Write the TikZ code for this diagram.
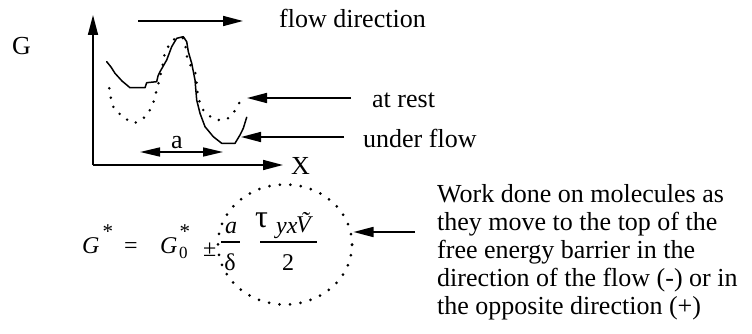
\documentclass[tikz,border=0pt]{standalone}
\usepackage{fontspec}
\setmainfont{Liberation Serif}
\usetikzlibrary{arrows.meta,shapes.geometric}
\newcommand{\starsup}{\raisebox{15pt}{\fontsize{21}{24}\selectfont *}}
\begin{document}
\begin{tikzpicture}[x=1pt,y=-1pt,
  txt/.style={font=\fontsize{26}{28}\selectfont, inner sep=0pt},
  eq/.style={font=\fontsize{24}{28}\selectfont, inner sep=0pt},
  arr/.style={line width=1.6pt, -{Triangle[length=20pt,width=10pt]}},
  darr/.style={line width=1.6pt, {Triangle[length=20pt,width=9pt]}-{Triangle[length=20pt,width=9pt]}},
  curve/.style={line width=1.5pt, line join=round, line cap=round},
  dotcurve/.style={line width=2.8pt, line cap=round, dash pattern=on 0pt off 9.5pt},
  dotring/.style={ellipse, draw, line width=3pt, line cap=round, dash pattern=on 0pt off 10.5pt, inner sep=0pt}
]
\useasboundingbox (0,0) rectangle (752,334);

% labels
\node[txt, anchor=base west] (G) at (12,55) {G};
\node[txt, anchor=base west] (flow) at (279,28) {flow direction};
\node[txt, anchor=base west] (rest) at (372,108) {at rest};
\node[txt, anchor=base west] (under) at (363,147) {under flow};
\node[txt, anchor=base west] (X) at (291,174) {X};
\node[txt, anchor=base] (alab) at (177,148) {a};

% axes
\coordinate (O) at (93,165);
\coordinate (ytop) at (93,15);
\coordinate (xend) at (283,165);
\draw[arr] (O) -- (ytop);
\draw[arr] (O) -- (xend);

% arrows
\coordinate (f1) at (138,21);
\coordinate (f2) at (243,21);
\draw[arr] (f1) -- (f2);
\coordinate (r1) at (351,98);
\coordinate (r2) at (247,98);
\draw[arr] (r1) -- (r2);
\coordinate (u1) at (344,137);
\coordinate (u2) at (241,137);
\draw[arr] (u1) -- (u2);
\coordinate (a1) at (140,152);
\coordinate (a2) at (223,152);
\draw[darr] (a1) -- (a2);

% under flow curve (solid)
\draw[curve] (106.7,61.7) -- (111,67) -- (115,73.3) -- (122,81) -- (130,87.7) -- (145,87.7)
  -- (146.7,82.7) -- (156.7,81.7) -- (158,76) -- (160,71.7) -- (166.7,60) -- (171.7,46.7)
  -- (176.7,38.3) -- (183.3,36.7) -- (186.7,41.7) -- (188.3,51.7) -- (191.7,63.3)
  -- (195,80) -- (196.7,100) -- (200,113.3) -- (205,126.7) -- (213.3,136.7)
  -- (221.7,143.3) -- (235,143.3) -- (240,135) -- (243.3,128.3) -- (246.7,117.3);

% at rest curve (dotted)
\draw[dotcurve] plot[smooth, tension=0.6] coordinates {(109.3,88.3) (113.3,106.7) (123.3,116.7)
  (133.3,122.7) (143.3,118.3) (151.7,106.7) (156.7,90) (161.7,70) (165,53.3) (171.7,41.7)
  (178,37.5) (184,40) (188.3,61.7) (195,71.7) (198.3,96.7) (203.3,110) (213.3,118.3)
  (223.3,120) (231.7,115) (240,101.7)};

% equation
\node[eq, anchor=base west] (Gs) at (82,253) {\textit{G}\hspace{3pt}\starsup};
\node[eq, anchor=base west] (eqsign) at (124,253) {=};
\node[eq, anchor=base west] (G0) at (160,253)
  {\textit{G}\hspace{1.5pt}\rlap{\raisebox{-5pt}{\fontsize{17}{20}\selectfont 0}}\hspace{0.5pt}\starsup};
\node[eq, anchor=base west] (pm) at (203,256) {±};
\node[eq, anchor=base] (anum) at (231,233) {\textit{a}};
\node[eq, anchor=base] (dden) at (230,270) {δ};
\coordinate (b1) at (221,242);
\coordinate (b2) at (240,242);
\draw[line width=1.5pt] (b1) -- (b2);
\node[font=\fontsize{32}{34}\selectfont, inner sep=0pt, anchor=base west] (tau) at (255,227) {τ};
\node[eq, anchor=base west] (yx) at (276,233) {\textit{yx}};
\node[eq, anchor=base west] (V) at (296,232) {\textit{\~{V}}};
\node[eq, anchor=base] (two) at (288,270) {2};
\coordinate (c1) at (260,242);
\coordinate (c2) at (317,242);
\draw[line width=1.5pt] (c1) -- (c2);

% dotted ring
\node[dotring, minimum width=134pt, minimum height=120pt] (work) at (285,244.5) {};

% explanation
\node[txt, anchor=north west, align=left] (expl) at (437,184)
  {Work done on molecules as\\they move to the top of the\\free energy barrier in the\\direction of the flow (-) or in\\the opposite direction (+)};
\coordinate (w1) at (415,232);
\draw[arr] (w1) -- (work.east |- w1);
\end{tikzpicture}
\end{document}
